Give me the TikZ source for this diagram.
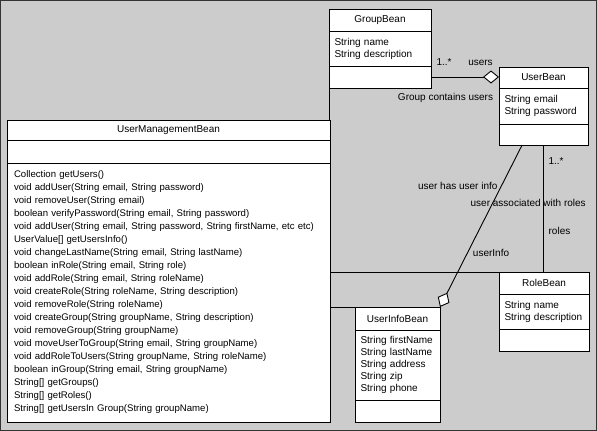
\documentclass[tikz,border=0pt]{standalone}
\usepackage{fontspec}
\setmainfont{Liberation Sans}
\usetikzlibrary{positioning,arrows.meta,calc}
\definecolor{bggray}{HTML}{CCCCCC}
\definecolor{framegray}{HTML}{333333}
\tikzset{
  compartment/.style={draw, fill=white, outer sep=0pt, inner xsep=5.5pt, inner ysep=0pt,
    font=\fontsize{10}{12}\selectfont},
  classhead/.style 2 args={compartment, minimum width=#1, minimum height=#2, align=center},
  classbody/.style 2 args={compartment, text width=#1, minimum height=#2, align=left},
  assoclabel/.style={inner sep=0pt, text height=7pt, text depth=2pt, font=\fontsize{10}{12}\selectfont},
  aggregation/.style={-{Diamond[fill=white, length=16pt, width=13pt]}}
}
\begin{document}
\begin{tikzpicture}[x=1pt, y=-1pt, line width=0.9pt]
\fill[bggray] (0,0) rectangle (597,431);
\draw[framegray, line width=1pt] (0.5,0.5) rectangle (596.5,430.5);
\useasboundingbox (0,0) rectangle (597,431);

% GroupBean
\node[classhead={102pt}{22pt}, anchor=north west] (gb-head) at (329,9) {GroupBean};
\node[classbody={91pt}{35pt}, below=0pt of gb-head] (gb-attr) {String name\\String description};
\node[classbody={91pt}{22pt}, below=0pt of gb-attr] (gb-ops) {};

% UserBean
\node[classhead={89pt}{21pt}, anchor=north west] (ub-head) at (499,67) {UserBean};
\node[classbody={78pt}{36pt}, below=0pt of ub-head] (ub-attr) {String email\\String password};
\node[classbody={78pt}{21pt}, below=0pt of ub-attr] (ub-ops) {};

% UserManagementBean
\node[classhead={323pt}{20pt}, anchor=north west] (umb-head) at (7,120) {UserManagementBean};
\node[classbody={312pt}{23pt}, below=0pt of umb-head] (umb-attr) {};
\node[classbody={309pt}{259pt}, inner xsep=7pt, font=\fontsize{9.6}{13}\selectfont, below=0pt of umb-attr] (umb-ops) {%
Collection getUsers()\\
void addUser(String email, String password)\\
void removeUser(String email)\\
boolean verifyPassword(String email, String password)\\
void addUser(String email, String password, String firstName, etc etc)\\
UserValue[] getUsersInfo()\\
void changeLastName(String email, String lastName)\\
boolean inRole(String email, String role)\\
void addRole(String email, String roleName)\\
void createRole(String roleName, String description)\\
void removeRole(String roleName)\\
void createGroup(String groupName, String description)\\
void removeGroup(String groupName)\\
void moveUserToGroup(String email, String groupName)\\
void addRoleToUsers(String groupName, String roleName)\\
boolean inGroup(String email, String groupName)\\
String[] getGroups()\\
String[] getRoles()\\
String[] getUsersIn Group(String groupName)};

% RoleBean
\node[classhead={90pt}{22pt}, anchor=north west] (rb-head) at (499,272) {RoleBean};
\node[classbody={79pt}{35pt}, below=0pt of rb-head] (rb-attr) {String name\\String description};
\node[classbody={79pt}{22pt}, below=0pt of rb-attr] (rb-ops) {};

% UserInfoBean
\node[classhead={85pt}{23pt}, anchor=north west] (uib-head) at (355,307) {UserInfoBean};
\node[classbody={74pt}{70pt}, below=0pt of uib-head] (uib-attr) {String firstName\\String lastName\\String address\\String zip\\String phone};
\node[classbody={74pt}{22pt}, below=0pt of uib-attr] (uib-ops) {};

% associations
\draw (gb-ops.south west) -- (gb-ops.south west |- umb-head.north);
\draw[aggregation] (gb-ops.east)
  -- node[assoclabel, pos=0, xshift=13pt, yshift=13.7pt] (gb-mult) {1..*}
     node[assoclabel, pos=1, xshift=-18.5pt, yshift=14.3pt] (gb-role) {users}
     node[assoclabel, pos=0, xshift=14.5pt, yshift=-21.3pt] (gb-name) {Group contains users}
  (gb-ops.east -| ub-head.west);
\coordinate (ub-info) at ($(ub-ops.south west)!0.26!(ub-ops.south east)$);
\draw[aggregation] (ub-info)
  -- node[assoclabel, pos=0, xshift=-64.4pt, yshift=-42pt] (uib-name) {user has user info}
     node[assoclabel, pos=0, xshift=-31.1pt, yshift=-108.7pt] (uib-role) {userInfo}
  (uib-head.north east);
\draw (ub-ops.south)
  -- node[assoclabel, pos=0, xshift=12.5pt, yshift=-17pt] (rb-mult) {1..*}
     node[assoclabel, pos=0, xshift=-15.3pt, yshift=-58.7pt] (rb-name) {user associated with roles}
     node[assoclabel, pos=0, xshift=16pt, yshift=-87pt] (rb-role) {roles}
  (ub-ops.south |- rb-head.north);
\draw (umb-ops.east |- rb-head.north west) -- (rb-head.north west);
\draw (umb-ops.east |- uib-head.north west) -- (uib-head.north west);
\end{tikzpicture}
\end{document}
